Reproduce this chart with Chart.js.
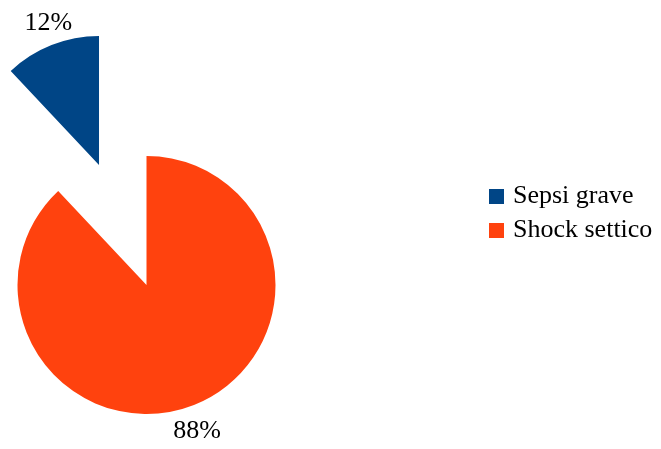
<!DOCTYPE html>
<html>
<head>
<meta charset="utf-8">
<script src="https://cdn.jsdelivr.net/npm/chart.js@4/dist/chart.umd.min.js"></script>
<style>
  html, body { margin: 0; padding: 0; background: #fff; }
  #wrap { position: relative; width: 661px; height: 449px; }
  #c-pie { position: absolute; left: 0; top: 0; }
  #legend { position: absolute; left: 489px; top: 178px; font-family: "Liberation Serif", "Times New Roman", serif; font-size: 26px; color: #000; }
  .leg-item { position: relative; height: 34px; line-height: 34px; padding-left: 24px; white-space: nowrap; }
  .leg-sq { position: absolute; left: 0; top: 11px; width: 15px; height: 15px; }
</style>
</head>
<body>
<div id="wrap">
  <canvas id="c-pie" width="661" height="449"></canvas>
  <div id="legend"></div>
</div>
<script>
const labels  = ['Sepsi grave', 'Shock settico'];
const values  = [12, 88];
const colors  = ['#004586', '#ff420e'];
// how far each slice is pulled out, as a fraction of the radius
const explode = [1, 0];

const total = values.reduce((a, b) => a + b, 0);

// pull slices out along their bisector
const explodePlugin = {
  id: 'explode',
  afterDatasetsUpdate(chart) {
    chart.getDatasetMeta(0).data.forEach((arc, i) => {
      const k = explode[i] || 0;
      if (!k) return;
      const mid = (arc.startAngle + arc.endAngle) / 2;
      arc.x += Math.cos(mid) * arc.outerRadius * k;
      arc.y += Math.sin(mid) * arc.outerRadius * k;
    });
  },
};

// percent labels just outside each slice, nudged a little toward the vertical
const pctPlugin = {
  id: 'pct',
  afterDatasetsDraw(chart) {
    const ctx = chart.ctx;
    ctx.save();
    ctx.font = '26px "Liberation Serif", "Times New Roman", serif';
    ctx.fillStyle = '#000';
    ctx.textAlign = 'center';
    ctx.textBaseline = 'alphabetic';
    chart.getDatasetMeta(0).data.forEach((arc, i) => {
      let mid = (arc.startAngle + arc.endAngle) / 2;
      mid = Math.atan2(Math.sin(mid), Math.cos(mid));
      const vert = mid < 0 ? -Math.PI / 2 : Math.PI / 2;
      mid += Math.sign(vert - mid) * 0.04;
      const r = arc.outerRadius + 24;
      ctx.fillText(Math.round(values[i] / total * 100) + '%',
        arc.x + Math.cos(mid) * r, arc.y + Math.sin(mid) * r + 9);
    });
    ctx.restore();
  },
};

new Chart(document.getElementById('c-pie'), {
  type: 'pie',
  data: {
    labels,
    datasets: [{ data: values, backgroundColor: colors, borderWidth: 0 }],
  },
  options: {
    responsive: false, animation: false,
    radius: 129,
    rotation: -360 * values[0] / total,
    layout: { padding: { left: 0, right: 368, top: 121, bottom: 0 } },
    plugins: { legend: { display: false }, tooltip: { enabled: false } },
  },
  plugins: [explodePlugin, pctPlugin],
});

document.getElementById('legend').innerHTML =
  labels.map((l, i) => `<div class="leg-item"><span class="leg-sq" style="background:${colors[i]}"></span>${l}</div>`).join('');
</script>
</body>
</html>
